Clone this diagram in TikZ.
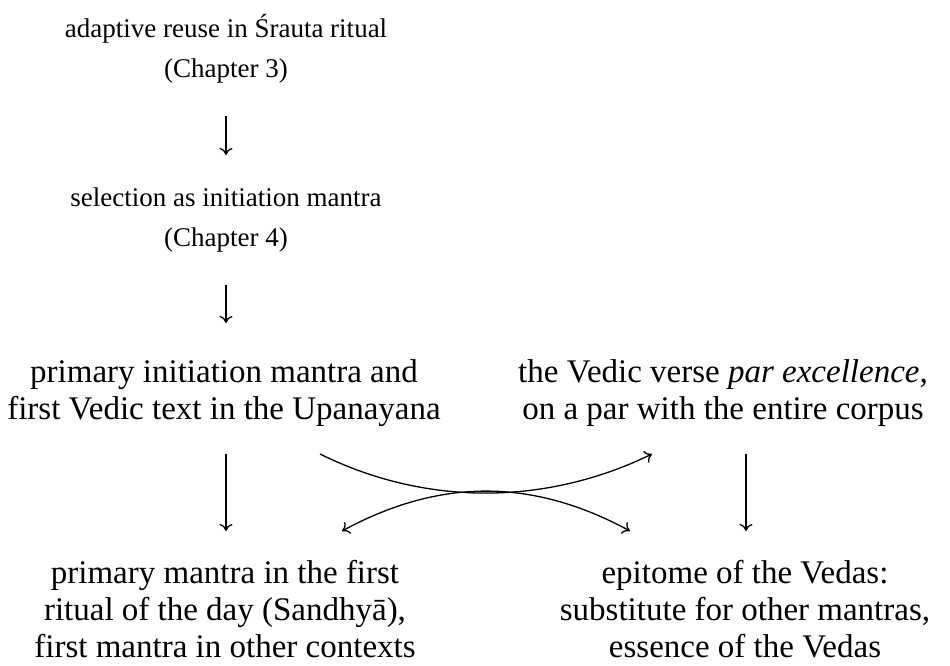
\documentclass[tikz,border=0pt]{standalone}
\usepackage{fontspec}
\setmainfont{Liberation Serif}
\usetikzlibrary{arrows.meta}
\begin{document}
\begin{tikzpicture}[x=1pt,y=-1pt,
  small/.style={font=\fontsize{27}{40}\selectfont, align=center, anchor=base, inner sep=0pt},
  big/.style={font=\fontsize{33}{37}\selectfont, align=center, anchor=base, inner sep=0pt},
  arr/.style={line width=1.3pt, -{To[length=7pt,width=13pt]}},
  arrb/.style={line width=1.3pt, {To[length=7pt,width=13pt]}-{To[length=7pt,width=13pt]}}]
\useasboundingbox (0,0) rectangle (950,666);
\node[small] (n1) at (226,78) {adaptive reuse in Śrauta ritual\\(Chapter 3)};
\node[small] (n2) at (226,246) {selection as initiation mantra\\(Chapter 4)};
\node[big] (n3) at (224,419) {primary initiation mantra and\\first Vedic text in the Upanayana};
\node[big] (n4) at (723,419) {the Vedic verse \textit{par excellence},\\on a par with the entire corpus};
\node[big] (n5) at (225,657) {primary mantra in the first\\ritual of the day (Sandhyā),\\first mantra in other contexts};
\node[big] (n6) at (745,657) {epitome of the Vedas:\\substitute for other mantras,\\essence of the Vedas};
\coordinate (a1s) at (226,116); \coordinate (a1e) at (226,155);
\coordinate (a2s) at (226,285); \coordinate (a2e) at (226,323);
\coordinate (a3s) at (226,454); \coordinate (a3e) at (226,531);
\coordinate (a4s) at (746,454); \coordinate (a4e) at (746,531);
\coordinate (c1s) at (320,454); \coordinate (c1e) at (652,454);
\coordinate (c2s) at (342,531); \coordinate (c2e) at (630,531);
\draw[arr] (a1s) -- (a1e);
\draw[arr] (a2s) -- (a2e);
\draw[arr] (a3s) -- (a3e);
\draw[arr] (a4s) -- (a4e);
\draw[arr] (c1s) .. controls (425,506) and (545,506) .. (c1e);
\draw[arrb] (c2s) .. controls (440,478) and (532,478) .. (c2e);
\end{tikzpicture}
\end{document}
